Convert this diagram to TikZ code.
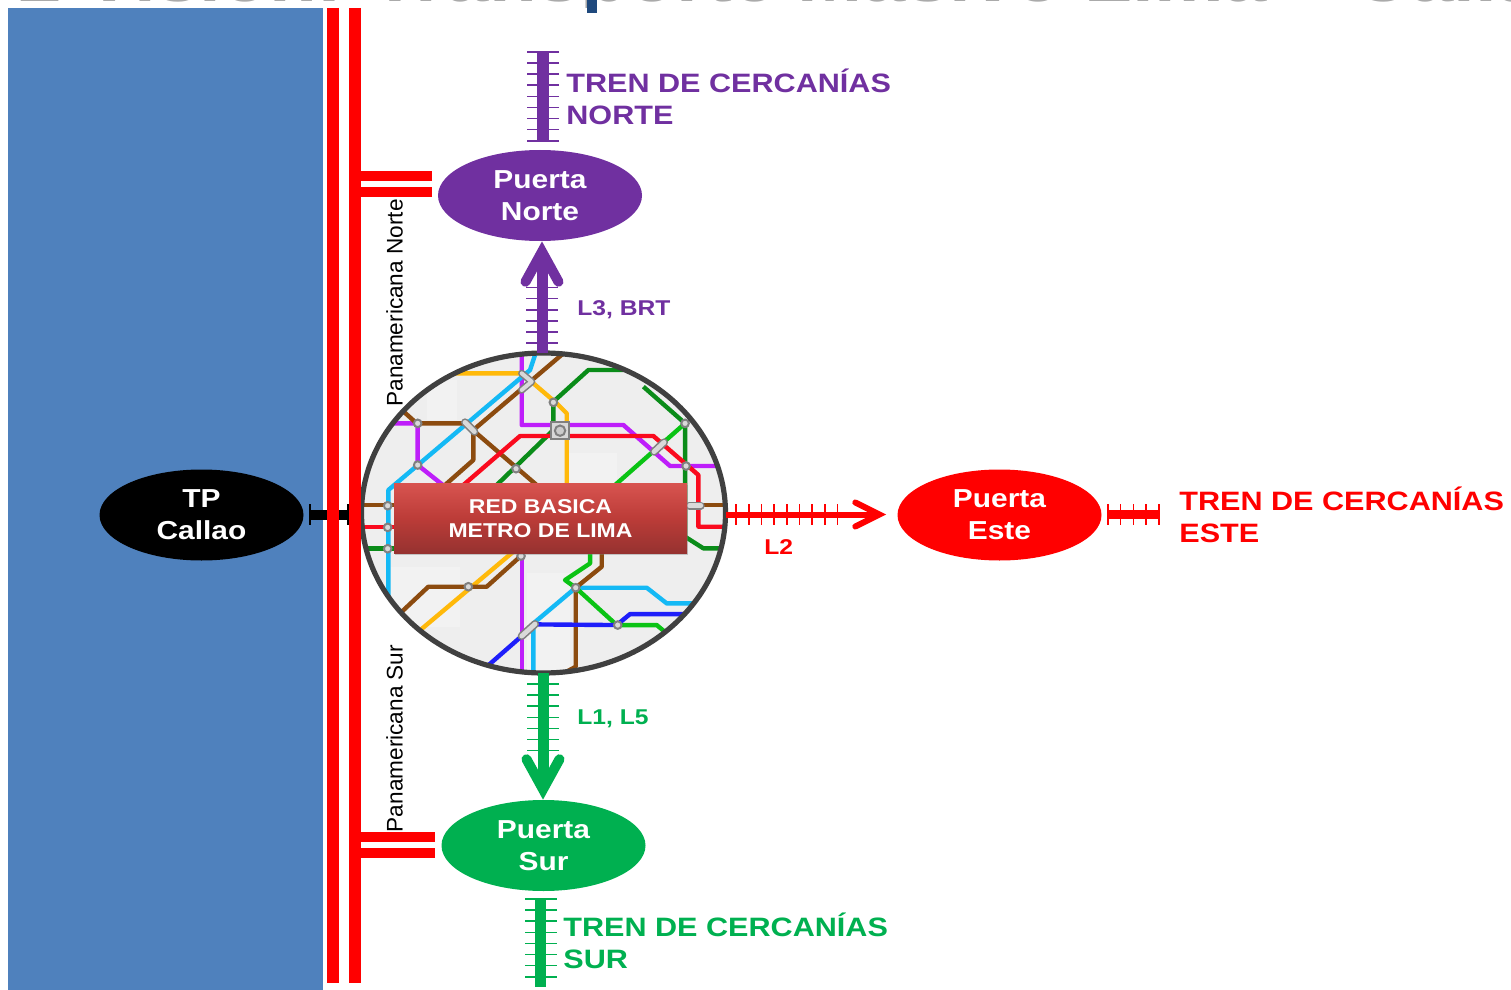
\documentclass[tikz,border=0pt]{standalone}
\usepackage{fontspec}
\setmainfont[FakeStretch=1.15]{Liberation Sans}
\newfontfamily\panfont{Liberation Sans}
\usetikzlibrary{shapes.geometric, arrows.meta, decorations.pathreplacing, shadows}
\definecolor{lnorte}{RGB}{112,48,160}
\definecolor{lsur}{RGB}{0,176,80}
\definecolor{leste}{RGB}{255,0,0}
\definecolor{mar}{RGB}{79,129,189}
\definecolor{titulo}{RGB}{170,170,170}
\definecolor{tituloazul}{RGB}{31,73,125}
\definecolor{borde}{RGB}{64,64,64}
\definecolor{mapa}{RGB}{238,238,238}
\definecolor{rojoalto}{RGB}{216,84,80}
\definecolor{rojomedio}{RGB}{188,60,56}
\definecolor{rojobajo}{RGB}{150,50,48}
\definecolor{mmorado}{RGB}{190,30,250}
\definecolor{mceleste}{RGB}{20,185,245}
\definecolor{mamarillo}{RGB}{255,185,10}
\definecolor{mcafe}{RGB}{140,75,15}
\definecolor{mverde}{RGB}{10,140,25}
\definecolor{mverdec}{RGB}{10,195,20}
\definecolor{mrojo}{RGB}{250,10,30}
\definecolor{mazul}{RGB}{30,30,250}
\tikzstyle{puerta} = [ellipse, minimum width=102pt, minimum height=45.5pt, inner sep=0pt, text=white, align=center, font=\bfseries\fontsize{13}{16}\selectfont]
\tikzstyle{bajo} = [execute at begin node={\rule{0pt}{11.5pt}}]
\tikzstyle{metro} = [ellipse, minimum width=182pt, minimum height=160pt, inner sep=0pt]
\tikzstyle{tren} = [anchor=west, inner sep=0pt, align=left, font=\bfseries\fontsize{13.3}{16}\selectfont]
\tikzstyle{linea} = [anchor=west, inner sep=0pt, font=\bfseries\fontsize{10.7}{13}\selectfont]
\tikzstyle{pan} = [rotate=90, inner sep=0pt, font=\panfont\fontsize{11.3}{13}\selectfont]
\tikzstyle{via} = [leste, line width=6pt]
\tikzstyle{ramal} = [leste, line width=5pt]
\tikzstyle{arrow} = [line width=5.5pt, -{Straight Barb[length=15pt, width=16.5pt, line width=5pt, line cap=round, line join=miter]}]
\tikzstyle{arrowl} = [line width=3pt, -{Straight Barb[length=12pt, width=12pt, line width=3pt, line cap=round, line join=miter]}]
\tikzstyle{ticksv} = [decorate, decoration={ticks, segment length=5.55pt, amplitude=8pt}, line width=0.8pt]
\tikzstyle{ticksh} = [decorate, decoration={ticks, segment length=6.35pt, amplitude=5.2pt}, line width=0.8pt]
\tikzstyle{ml} = [line width=2.2pt, line join=round]
\tikzstyle{esta} = [fill=white!85!black, draw=gray, line width=1pt]

\begin{document}
\begin{tikzpicture}[x=0.5pt, y=-0.5pt]

\useasboundingbox (0,0) rectangle (1511,990);

\begin{scope}
\clip (0,0) rectangle (1511,8);
\node (titular) [anchor=base west, inner sep=0pt, text=titulo, font=\bfseries\fontsize{34}{36}\selectfont] at (18,2) {2 Visión: Transporte Masivo Lima -- Callao};
\end{scope}
\fill [tituloazul] (587,0) rectangle (597,13);

\fill [mar] (8,8) rectangle (323,990);

\node (metro) [metro, fill=mapa] at (543.5,513) {};
\node (tpcallao) [puerta, bajo, fill=black, left of=metro, node distance=171pt, yshift=-1pt] {TP\\Callao};
\node (puertanorte) [puerta, fill=lnorte, above of=metro, node distance=158.75pt, xshift=-1.75pt] {Puerta\\Norte};
\node (puertasur) [puerta, fill=lsur, below of=metro, node distance=166.25pt] {Puerta\\Sur};
\node (puertaeste) [puerta, bajo, fill=leste, right of=metro, node distance=228pt, yshift=-1pt] {Puerta\\Este};

\begin{scope}[shift={(350,340)}, x=0.1667pt, y=-0.1667pt]
\clip (580.5,519) ellipse [x radius=546, y radius=480];
\fill [white!95!black] (120,680) rectangle (330,860);
\fill [white!95!black] (530,700) rectangle (660,990);
\fill [white!95!black] (650,340) rectangle (800,430);
\fill [white!95!black] (230,120) rectangle (320,240);
\draw [ml, mmorado] (515,30) -- (515,255) -- (820,255) -- (960,378) -- (1100,378);
\draw [ml, mmorado] (120,250) -- (203,250) -- (203,375) -- (285,440);
\draw [ml, mmorado] (515,630) -- (515,1010);
\draw [ml, mamarillo] (300,100) -- (515,100) -- (620,190) -- (650,220) -- (650,440);
\draw [ml, mamarillo] (205,875) -- (490,635);
\draw [ml, mceleste] (560,30) -- (540,90) -- (115,450) -- (115,790);
\draw [ml, mceleste] (550,1010) -- (550,850) -- (677,743) -- (890,743) -- (950,790) -- (1040,790);
\draw [ml, mcafe] (640,40) -- (370,270) -- (370,360) -- (285,435);
\draw [ml, mcafe] (150,205) -- (200,250) -- (345,250) -- (560,435);
\draw [ml, mcafe] (20,495) -- (140,495);
\draw [ml, mcafe] (1000,495) -- (1120,495);
\draw [ml, mcafe] (150,820) -- (235,740) -- (410,740) -- (510,650);
\draw [ml, mcafe] (755,630) -- (755,680) -- (677,743) -- (677,980) -- (640,1000);
\draw [ml, mverde] (820,90) -- (715,90) -- (610,185) -- (610,270) -- (440,435);
\draw [ml, mverde] (880,140) -- (1005,250) -- (1005,590) -- (1060,625) -- (1110,625);
\draw [ml, mverde] (30,625) -- (140,625);
\draw [ml, mverdec] (795,435) -- (1005,250);
\draw [ml, mverdec] (720,630) -- (720,670) -- (645,720) -- (677,743) -- (800,855) -- (920,855) -- (950,880);
\draw [ml, mrojo] (340,435) -- (510,288) -- (910,288) -- (1045,405) -- (1045,560) -- (1120,560);
\draw [ml, mrojo] (20,560) -- (140,560);
\draw [ml, mazul] (410,980) -- (555,853) -- (800,855) -- (840,822) -- (1000,822);
\foreach \sx/\sy in {203/250, 203/375, 498/386, 610/187, 1005/250, 1008/378, 113/497, 113/562, 113/626, 513/648, 355/740, 677/743, 803/855}
  \draw [esta] (\sx,\sy) circle (1.9pt);
\foreach \ax/\ay/\bx/\by in {345/247/373/275, 912/335/942/307, 515/888/555/852, 1018/497/1052/497}
{
  \draw [gray, line width=4pt, line cap=round] (\ax,\ay) -- (\bx,\by);
  \draw [white!85!black, line width=2.4pt, line cap=round] (\ax,\ay) -- (\bx,\by);
}
\draw [gray, line width=3.6pt, line cap=round, line join=round] (515,100) -- (545,125) -- (515,150);
\draw [white!85!black, line width=2pt, line cap=round, line join=round] (515,100) -- (545,125) -- (515,150);
\draw [esta] (603,246) rectangle (658,298);
\draw [gray, line width=1pt, fill=white!80!black] (630,272) circle (2.6pt);
\end{scope}

\draw [borde, line width=2.6pt] (metro.center) ellipse [x radius=182, y radius=160];

\node (redbasica) [rectangle, minimum width=146.5pt, minimum height=35pt, inner sep=0pt, align=center, text=white, top color=rojoalto, bottom color=rojobajo, middle color=rojomedio, drop shadow={shadow xshift=0.5pt, shadow yshift=-1pt, opacity=0.4}, font=\bfseries\fontsize{10}{12}\selectfont] at (540.5,518) {\rule{0pt}{8pt}RED BASICA\\METRO DE LIMA};

\coordinate (trennortea) at (543,52);
\coordinate (trennorteb) at (543,141);
\coordinate (trensura) at (540.5,899);
\coordinate (trensurb) at (540.5,987);
\coordinate (treneste) at (1159,514.5);
\coordinate (l3a) at (542,343);
\coordinate (l3b) at (542,287);
\coordinate (l1a) at (543,684);
\coordinate (l1b) at (543,752);
\coordinate (l2a) at (736,514.5);
\coordinate (l2b) at (840,514.5);
\coordinate (l2c) at (886,514.5);
\coordinate (callaoa) at (310,515);
\coordinate (callaob) at (350,515);
\coordinate (viaia) at (333,8);
\coordinate (viaib) at (333,983);
\coordinate (viada) at (354.5,8);
\coordinate (viadb) at (354.5,983);
\coordinate (ramalna) at (432,176.5);
\coordinate (ramalnb) at (432,192.5);
\coordinate (ramalsa) at (435,837);
\coordinate (ramalsb) at (435,853);

\draw [black, line width=5pt] (callaoa) -- (callaob);
\draw [black, line width=0.8pt] (310,504) -- (310,525);
\draw [black, line width=0.8pt] (348,504) -- (348,525);

\draw [via] (viaia) -- (viaib);
\draw [via] (viada) -- (viadb);
\draw [ramal] (ramalna) -- (ramalna -| viadb);
\draw [ramal] (ramalnb) -- (ramalnb -| viadb);
\draw [ramal] (ramalsa) -- (ramalsa -| viadb);
\draw [ramal] (ramalsb) -- (ramalsb -| viadb);

\draw [lnorte, line width=6pt] (trennortea) -- (trennorteb);
\draw [lnorte, ticksv] (trennortea) -- (trennorteb);
\draw [lnorte, arrow] (metro.north -| l3a) -- (puertanorte.south -| l3a);
\draw [lnorte, ticksv] (l3a) -- (l3b);
\draw [lsur, arrow] (metro.south -| l1a) -- (puertasur.north -| l1a);
\draw [lsur, ticksv] (l1a) -- (l1b);
\draw [lsur, line width=5.5pt] (trensura) -- (trensurb);
\draw [lsur, ticksv] (trensura) -- (trensurb);
\draw [leste, arrowl] (metro.east |- l2a) -- (l2c);
\draw [leste, ticksh] (l2a) -- (l2b);
\draw [leste, line width=4.5pt] (puertaeste.east |- treneste) ++(6,0) coordinate (trenestea) -- (treneste);
\draw [leste, ticksh] (trenestea) -- (treneste);

\node (trentxtn) [tren, text=lnorte] at (566,97) {TREN DE CERCANÍAS\\NORTE};
\node (trentxte) [tren, text=leste] at (1179,515) {TREN DE CERCANÍAS\\ESTE};
\node (trentxts) [tren, text=lsur] at (563,941) {TREN DE CERCANÍAS\\SUR};
\node (lineal3) [linea, text=lnorte] at (577,310) {L3, BRT};
\node (lineal1) [linea, text=lsur] at (577,719) {L1, L5};
\node (lineal2) [linea, text=leste] at (764,547) {L2};
\node (pannorte) [pan] at (394.5,303) {Panamericana Norte};
\node (pansur) [pan] at (394.5,738.5) {Panamericana Sur};

\end{tikzpicture}
\end{document}
